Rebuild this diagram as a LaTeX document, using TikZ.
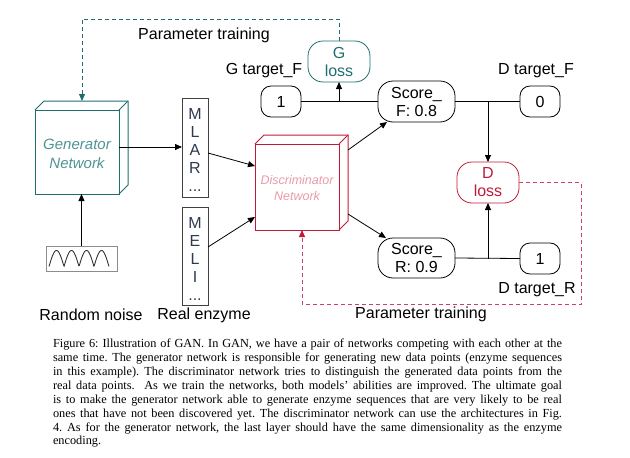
\documentclass[tikz,border=0pt]{standalone}
\usepackage{fontspec}
\setmainfont{Liberation Serif}
\newfontfamily\diagfont{Liberation Sans}
\usetikzlibrary{arrows.meta}
\definecolor{tealline}{HTML}{1F6E6E}
\definecolor{tealtext}{HTML}{4E9494}
\definecolor{redline}{HTML}{C01A3A}
\definecolor{pinktext}{HTML}{E99AAC}
\definecolor{reddash}{HTML}{D0405E}
\definecolor{lettercol}{HTML}{2E3A50}
\begin{document}
\begin{tikzpicture}[x=1pt,y=-1pt,
  every node/.style={font=\diagfont\fontsize{16}{18}\selectfont, inner sep=0pt, outer sep=0pt},
  arr/.style={-{Triangle[length=7pt,width=6pt]}, line width=0.8pt},
  pill/.style={draw, line width=0.8pt, rounded corners=15pt, align=center},
  smallpill/.style={draw, line width=0.8pt, rounded corners=10pt, minimum width=40pt, minimum height=31pt},
  cubeface/.style={draw, line width=1pt, minimum width=84pt},
  seqbox/.style={draw=black!75, line width=0.8pt, minimum width=26pt},
  seqtext/.style={text=lettercol, align=center},
  lbl/.style={text=black},
  dsh/.style={dashed, dash pattern=on 4pt off 3pt, line width=0.8pt}]
\useasboundingbox (0,0) rectangle (630,458);

% Generator cube
\node[cubeface, draw=tealline, minimum height=84pt] (gen) at (77,152) {};
\draw[tealline, line width=1pt] (gen.north west) -- ++(9,-9) -- ++(84,0) -- ++(0,84) -- (gen.south east);
\draw[tealline, line width=1pt] (gen.north east) -- ++(9,-9);
\node[text=tealtext, align=center, font=\diagfont\itshape\fontsize{15}{19}\selectfont] (gentxt) at (77,154) {Generator\\Network};

% Random noise
\node[draw=black!45, line width=1pt, minimum width=71pt, minimum height=25pt] (noise) at (81.5,258.5) {};
\draw[black!80, line width=0.9pt, samples=120, domain=0:4] plot ({49+15*\x}, {266.5-16*abs(sin(180*\x))});
\node[lbl] (noiselbl) at (91,315) {Random noise};
\draw[arr] (noise.north) -- (noise.north |- gen.south);

% Sequences
\node[seqbox, minimum height=99pt] (mlar) at (195,147.5) {};
\node[seqtext] (mlartxt) at (195,150) {M\\L\\A\\R\\...};
\node[seqbox, minimum height=98pt] (meli) at (195,256) {};
\node[seqtext] (melitxt) at (195,259) {M\\E\\L\\I\\...};
\node[lbl] (reallbl) at (204,315) {Real enzyme};
\draw[arr] ([yshift=5pt]gen.east) -- ([yshift=5pt]gen.east -| mlar.west);

% Discriminator cube
\node[cubeface, draw=redline, minimum height=86pt] (disc) at (297,187) {};
\draw[redline, line width=1pt] (disc.north west) -- ++(9,-9) -- ++(84,0) -- ++(0,86) -- (disc.south east);
\draw[redline, line width=1pt] (disc.north east) -- ++(9,-9);
\node[text=pinktext, align=center, font=\diagfont\itshape\fontsize{12.5}{16}\selectfont] (disctxt) at (297,188) {Discriminator\\Network};
\draw[arr] ([yshift=-5.5pt]mlar.east) -- ([yshift=21pt]disc.west);
\draw[arr] ([yshift=9pt]meli.east) -- ([yshift=-30pt]disc.west);

% Scores
\node[pill, minimum width=77pt, minimum height=41pt] (scoref) at (416.5,101.5) {Score\_\\F: 0.8};
\node[pill, minimum width=77pt, minimum height=40pt] (scorer) at (416.5,258) {Score\_\\R: 0.9};
\draw[arr] ([xshift=9pt,yshift=-6pt]disc.north east) -- ([xshift=9pt]scoref.south west);
\draw[arr] ([xshift=9pt,yshift=16pt]disc.south east) -- ([xshift=8pt]scorer.north west);

% Targets
\node[smallpill] (gtf) at (281,101.5) {1};
\node[lbl] (gtflbl) at (264,71) {G target\_F};
\node[smallpill] (dtf) at (540,101.5) {0};
\node[lbl] (dtflbl) at (536,71) {D target\_F};
\node[smallpill] (dtr) at (540,258.5) {1};
\node[lbl] (dtrlbl) at (537,290) {D target\_R};

% Losses
\node[pill, draw=tealline, text=tealline, minimum width=62pt, minimum height=41pt] (gloss) at (339,61.5) {G\\loss};
\node[pill, draw=redline, text=redline, minimum width=62pt, minimum height=41pt] (dloss) at (488,182.5) {D\\loss};

\draw[line width=0.8pt] (gtf.east) -- (scoref.west);
\draw[arr] (gloss.south |- gtf.east) -- (gloss.south);
\draw[line width=0.8pt] (scoref.east) -- (dtf.west);
\draw[arr] (dloss.north |- dtf.west) -- (dloss.north);
\draw[line width=0.8pt] (scorer.east) -- (dtr.west);
\draw[arr] (dloss.south |- dtr.west) -- (dloss.south);

% Parameter training loops
\coordinate (gtop) at ([xshift=5pt,yshift=9pt]gen.north);
\coordinate (gcorner) at (339,19);
\draw[dsh, tealline, -{Triangle[length=7pt,width=6pt]}] (gloss.north) -- (gcorner) -| (gtop);
\node[lbl] (ptop) at (204,35) {Parameter training};

\coordinate (rcorner) at (581,304);
\draw[dsh, reddash, -{Triangle[length=7pt,width=6pt,color=redline,fill=redline]}] (dloss.east) -| (rcorner) -| ([xshift=5pt]disc.south);
\node[lbl] (pbot) at (421,314) {Parameter training};

% Caption
\node[anchor=north west, font=\rmfamily\fontsize{12.3}{13.9}\selectfont, text=black] (cap) at (53,339) {\parbox{509pt}{\frenchspacing Figure 6: Illustration of GAN. In GAN, we have a pair of networks competing with each other at the\linebreak same time. The generator network is responsible for generating new data points (enzyme sequences\linebreak in this example). The discriminator network tries to distinguish the generated data points from the\linebreak real data points.\ \ As we train the networks, both models' abilities are improved. The ultimate goal\linebreak is to make the generator network able to generate enzyme sequences that are very likely to be real\linebreak ones that have not been discovered yet. The discriminator network can use the architectures in Fig.\linebreak 4. As for the generator network, the last layer should have the same dimensionality as the enzyme\linebreak encoding.}};
\end{tikzpicture}
\end{document}
